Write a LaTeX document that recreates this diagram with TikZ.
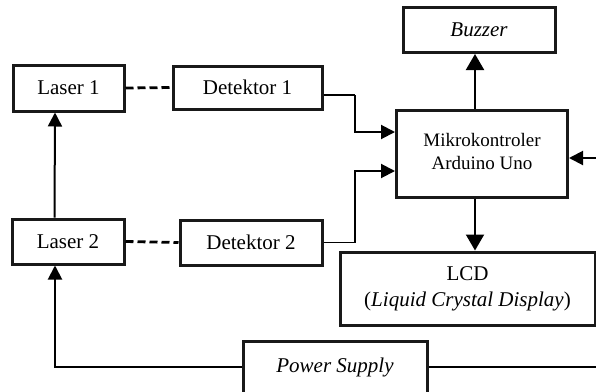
\documentclass[tikz,border=0pt]{standalone}
\usepackage{fontspec}
\setmainfont{Liberation Serif}
\usetikzlibrary{arrows.meta}
\begin{document}
\begin{tikzpicture}[x=1pt,y=-1pt,
  box/.style={draw=black!90, line width=3pt, inner sep=0pt, align=center,
    font=\fontsize{21}{26}\selectfont},
  conn/.style={line width=1.8pt},
  arr/.style={line width=2pt, -{Triangle[length=14pt,width=14pt]}},
  bigarr/.style={line width=2pt, -{Triangle[length=16pt,width=18pt]}},
  dashline/.style={line width=2.8pt, dash pattern=on 8pt off 4pt}]
\useasboundingbox (0,0) rectangle (596,391);
\node[box, minimum width=111, minimum height=46] (las1) at (68.5,88) {Laser 1};
\node[box, minimum width=149, minimum height=43] (det1) at (247.5,87.5) {Detektor 1};
\node[box, minimum width=152, minimum height=45] (buz) at (479,30) {\itshape Buzzer};
\node[box, minimum width=171, minimum height=87, font=\fontsize{19}{23}\selectfont] (mcu) at (482,153.5)
  {\raisebox{7pt}{\begin{tabular}{@{}c@{}}Mikrokontroler\\Arduino Uno\end{tabular}}};
\node[box, minimum width=112, minimum height=45] (las2) at (68,241.5) {Laser 2};
\node[box, minimum width=142, minimum height=45] (det2) at (251,242.5) {Detektor 2};
\node[box, minimum width=255, minimum height=73] (lcd) at (467.5,288.5) {LCD\\(\textit{Liquid Crystal Display})};
\node[box, minimum width=184, minimum height=52] (pwr) at (335,367) {\itshape Power Supply};
\coordinate (redge) at (600,367);
\coordinate (rin) at (600,158);

\draw[dashline] (las1.east) -- (det1.west);
\draw[dashline] (las2.east) -- (det2.west);
\draw[arr] ([xshift=-13.5pt]las2.north) -- ([xshift=-13.5pt]las1.south);
\draw[arr] (pwr.west) -| ([xshift=-13pt]las2.south);
\draw[conn] (pwr.east) -- (redge);
\draw[arr] (rin) -- ([yshift=-4.5pt]mcu.east);
\draw[bigarr] ([xshift=-7pt]mcu.north) coordinate (m1) -- (m1 |- buz.south);
\draw[bigarr] ([xshift=-7pt]mcu.south) coordinate (m2) -- (m2 |- lcd.north);
\draw[conn] ([yshift=-7.5pt]det1.east) -- ++(31,0) coordinate (k1);
\draw[arr] (k1) |- ([yshift=21.5pt]mcu.west);
\draw[conn] (det2.east) -- ++(31,0) coordinate (k2);
\draw[arr] (k2) |- ([yshift=-17.5pt]mcu.west);
\end{tikzpicture}
\end{document}
